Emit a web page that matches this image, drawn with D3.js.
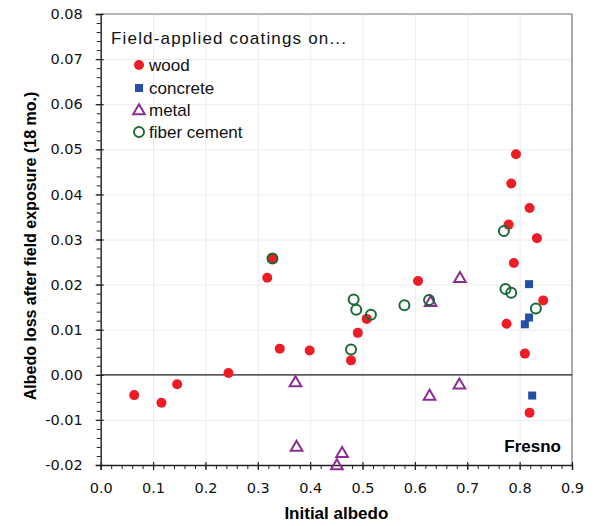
<!DOCTYPE html>
<html lang="en">
<head>
  <meta charset="utf-8"/>
  <title>Albedo loss – Fresno</title>
  <script src="https://cdn.jsdelivr.net/npm/d3@7/dist/d3.min.js"></script>
  <style>
    html, body { margin:0; padding:0; background:#fff; }
    svg { display:block; font-family:"Liberation Sans", Arial, sans-serif; }
    .tick text { font-family:"DejaVu Sans", sans-serif; font-size:14.5px; fill:#111; }
    .grid line { stroke:#ececec; }
    .grid path { stroke:none; }
  </style>
</head>
<body>
<svg width="598" height="526"></svg>
<script>
  // data: [initial albedo, albedo loss]
  const wood = [
    [0.064,-0.0045],[0.116,-0.0062],[0.146,-0.0021],[0.244,0.0004],[0.318,0.0215],
    [0.328,0.0258],[0.342,0.0058],[0.399,0.0054],[0.478,0.0032],[0.491,0.0093],
    [0.508,0.0124],[0.606,0.0208],[0.775,0.0113],[0.779,0.0333],[0.784,0.0424],
    [0.789,0.0248],[0.793,0.0489],[0.810,0.0047],[0.819,0.0370],[0.819,-0.0084],
    [0.833,0.0303],[0.845,0.0165]
  ];
  const concrete = [[0.818,0.0201],[0.818,0.0127],[0.810,0.0112],[0.824,-0.0046]];
  const metal = [
    [0.372,-0.0016],[0.374,-0.0159],[0.451,-0.0200],[0.461,-0.0173],
    [0.628,-0.0046],[0.630,0.0162],[0.685,-0.0021],[0.686,0.0215]
  ];
  const fiber = [
    [0.328,0.0258],[0.478,0.0056],[0.483,0.0167],[0.488,0.0144],[0.516,0.0133],
    [0.580,0.0154],[0.627,0.0166],[0.770,0.0319],[0.773,0.0190],[0.784,0.0182],
    [0.831,0.0147]
  ];
  const seriesNames = ["wood", "concrete", "metal", "fiber cement"];
  const xTicks = [0,0.1,0.2,0.3,0.4,0.5,0.6,0.7,0.8,0.9];
  const yTicks = [-0.02,-0.01,0,0.01,0.02,0.03,0.04,0.05,0.06,0.07,0.08];

  const RED = "#ee1c25", BLUE = "#2250a6", PURPLE = "#8a2c92", GREEN = "#1b6a34";

  const svg = d3.select("svg");
  const L = 100.7, R = 572, T = 14, B = 465;
  const x = d3.scaleLinear().domain([0, 0.9]).range([L, R]);
  const y = d3.scaleLinear().domain([-0.02, 0.08]).range([B, T]);

  // gridlines
  svg.append("g").attr("class","grid").attr("transform",`translate(0,${B})`)
    .call(d3.axisBottom(x).tickValues(xTicks).tickSize(-(B-T)).tickFormat(""));
  svg.append("g").attr("class","grid").attr("transform",`translate(${L},0)`)
    .call(d3.axisLeft(y).tickValues(yTicks).tickSize(-(R-L)).tickFormat(""));

  // frame top/right
  svg.append("path").attr("d",`M${L},${T}H${R}V${B}`)
    .attr("fill","none").attr("stroke","#7a7a7a").attr("stroke-width",1.2);

  // zero line
  svg.append("line").attr("x1",L).attr("x2",R).attr("y1",y(0)).attr("y2",y(0))
    .attr("stroke","#222").attr("stroke-width",1.2);

  // minor ticks
  const yMinor = d3.range(-0.02, 0.0801, 0.002);
  const xMinor = d3.range(0, 0.901, 0.02);
  svg.append("g").attr("transform",`translate(${L},0)`)
    .call(d3.axisLeft(y).tickValues(yMinor).tickSize(4).tickFormat(""))
    .call(g => g.select(".domain").remove())
    .selectAll("line").attr("stroke","#222");
  svg.append("g").attr("transform",`translate(0,${B})`)
    .call(d3.axisBottom(x).tickValues(xMinor).tickSize(4).tickFormat(""))
    .call(g => g.select(".domain").remove())
    .selectAll("line").attr("stroke","#222");

  // major axes
  const yAxis = svg.append("g").attr("transform",`translate(${L},0)`)
    .call(d3.axisLeft(y).tickValues(yTicks).tickSizeOuter(0).tickSize(5).tickPadding(13)
      .tickFormat(d3.format(".2f")));
  yAxis.selectAll(".tick line").attr("x2",-5).attr("x1",3);
  yAxis.selectAll(".tick text").text(d => d3.format(".2f")(d).replace("−","-"));
  const xAxis = svg.append("g").attr("transform",`translate(0,${B})`)
    .call(d3.axisBottom(x).tickValues(xTicks).tickSizeOuter(0).tickSize(5).tickPadding(13)
      .tickFormat(d3.format(".1f")));
  xAxis.selectAll(".tick line").attr("y1",-3).attr("y2",5);
  [yAxis, xAxis].forEach(a => {
    a.select(".domain").attr("stroke","#222").attr("stroke-width",1.4);
    a.selectAll(".tick line").attr("stroke","#222").attr("stroke-width",1.2);
  });

  // axis titles
  svg.append("text").attr("x",(L+R)/2).attr("y",519).attr("text-anchor","middle")
    .attr("font-weight","bold").attr("font-size",17).text("Initial albedo");
  svg.append("text").attr("transform","translate(36,246) rotate(-90)")
    .attr("text-anchor","middle").attr("font-weight","bold").attr("font-size",16)
    .text("Albedo loss after field exposure (18 mo.)");

  svg.append("text").attr("x",561).attr("y",452).attr("text-anchor","end")
    .attr("font-weight","bold").attr("font-size",17).text("Fresno");

  // markers
  const tri = "M0,-5.8L5.8,4.2L-5.8,4.2Z";
  const pts = svg.append("g");
  pts.selectAll(".wood").data(wood).join("circle").attr("class","wood")
    .attr("cx",d => x(d[0])).attr("cy",d => y(d[1])).attr("r",5).attr("fill",RED);
  pts.selectAll(".conc").data(concrete).join("rect").attr("class","conc")
    .attr("x",d => x(d[0]) - 4).attr("y",d => y(d[1]) - 4)
    .attr("width",8).attr("height",8).attr("fill",BLUE);
  pts.selectAll(".metal").data(metal).join("path").attr("class","metal")
    .attr("transform",d => `translate(${x(d[0])},${y(d[1])})`).attr("d",tri)
    .attr("fill","none").attr("stroke",PURPLE).attr("stroke-width",2);
  pts.selectAll(".fiber").data(fiber).join("circle").attr("class","fiber")
    .attr("cx",d => x(d[0])).attr("cy",d => y(d[1])).attr("r",5)
    .attr("fill","none").attr("stroke",GREEN).attr("stroke-width",2);

  // legend
  const lg = svg.append("g");
  lg.append("text").attr("x",111).attr("y",44).attr("font-size",17)
    .attr("textLength",235).attr("lengthAdjust","spacing").attr("fill","#111")
    .text("Field-applied coatings on...");
  const rows = [65, 88, 110, 132];
  rows.forEach((ry, i) => {
    const m = lg.append("g").attr("transform",`translate(139,${ry})`);
    if (i === 0) m.append("circle").attr("r",5).attr("fill",RED);
    if (i === 1) m.append("rect").attr("x",-4).attr("y",-4).attr("width",8).attr("height",8).attr("fill",BLUE);
    if (i === 2) m.append("path").attr("d",tri).attr("fill","none").attr("stroke",PURPLE).attr("stroke-width",2);
    if (i === 3) m.append("circle").attr("r",5).attr("fill","none").attr("stroke",GREEN).attr("stroke-width",2);
    lg.append("text").attr("x",149).attr("y",ry + 6).attr("font-size",17).attr("fill","#111")
      .text(seriesNames[i]);
  });
</script>
</body>
</html>
